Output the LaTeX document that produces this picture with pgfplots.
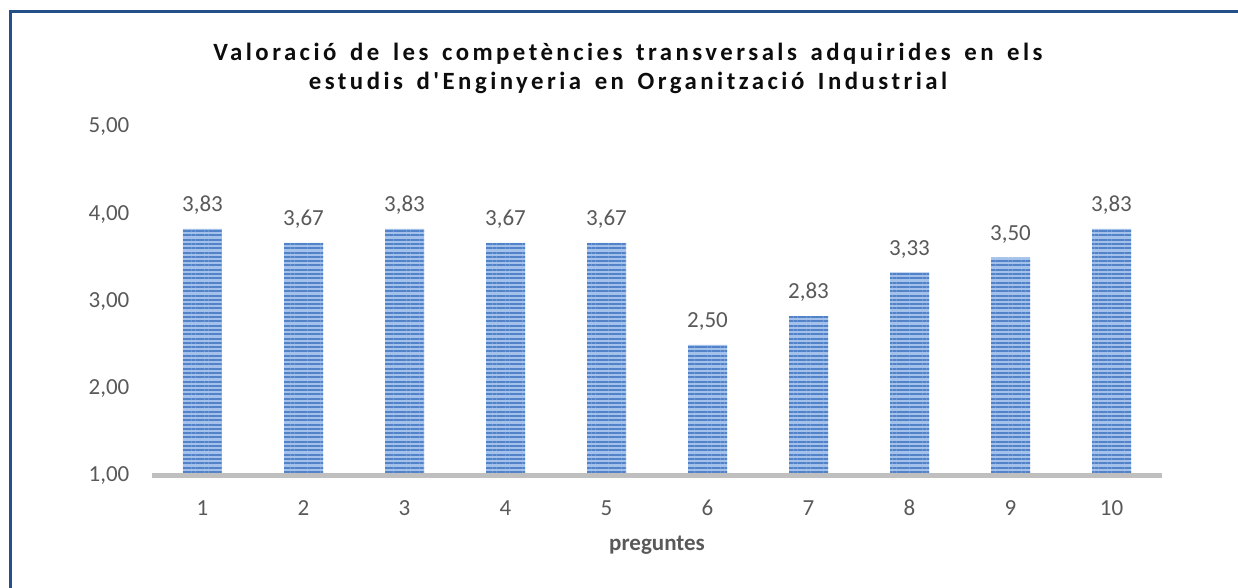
\documentclass[border=0pt]{standalone}
\usepackage{fontspec}
\setmainfont{Carlito}
\newfontfamily\titlefont[LetterSpace=14,WordSpace=1.5]{Carlito}
\usepackage{pgfplots}
\pgfplotsset{compat=1.18}
\usetikzlibrary{patterns.meta}
\definecolor{barlight}{HTML}{A3C1EA}
\definecolor{bardark}{HTML}{5283C9}
\definecolor{axgray}{HTML}{BFBFBF}
\definecolor{txtgray}{HTML}{595959}
\definecolor{framecol}{HTML}{24508A}
\begin{document}
\begin{tikzpicture}[x=1pt,y=1pt]
\path[use as bounding box] (0,0) rectangle (619,294);
\draw[framecol, line width=1.5pt] (5,0) -- (5,288) -- (619,288);
\node[anchor=base, font=\titlefont\bfseries\fontsize{12.4}{14}\selectfont, text=black!95] at (314,263.5) {Valoració de les competències transversals adquirides en els};
\node[anchor=base, font=\titlefont\bfseries\fontsize{12.4}{14}\selectfont, text=black!95] at (314,249) {estudis d'Enginyeria en Organització Industrial};
\begin{axis}[
  at={(76pt,56.25pt)}, anchor=south west,
  scale only axis, width=505pt, height=174.25pt,
  xmin=0.5, xmax=10.5, ymin=1, ymax=5,
  xtick={1,...,10}, ytick={1,2,3,4,5},
  axis x line*=bottom, axis y line*=left,
  y axis line style={draw=none},
  x axis line style={axgray, line width=2.5pt, -},
  tick style={draw=none}, major tick length=0pt,
  axis on top,
  /pgf/number format/assume math mode=true,
  yticklabel style={/pgf/number format/fixed, /pgf/number format/fixed zerofill, /pgf/number format/precision=2, /pgf/number format/use comma, font=\fontsize{11.5}{13}\selectfont, text=txtgray, xshift=-7.8pt},
  xticklabel style={font=\fontsize{11.5}{13}\selectfont, text=txtgray, anchor=base, yshift=-20.25pt},
  xlabel={preguntes},
  xlabel style={font=\bfseries\fontsize{11.5}{13}\selectfont, text=txtgray, at={(axis description cs:0.5,0)}, anchor=base, yshift=-37.75pt},
  ybar, bar width=19.5pt,
  nodes near coords,
  nodes near coords style={font=\fontsize{11.5}{13}\selectfont, text=txtgray, anchor=base, yshift=8.7pt, /pgf/number format/fixed, /pgf/number format/fixed zerofill, /pgf/number format/precision=2, /pgf/number format/use comma, /pgf/number format/assume math mode=true},
]
\addplot[draw=none, fill=barlight, postaction={pattern={Lines[angle=0,distance=2.15pt,line width=1pt]}, pattern color=bardark}]
coordinates {(1,3.83)(2,3.67)(3,3.83)(4,3.67)(5,3.67)(6,2.50)(7,2.83)(8,3.33)(9,3.50)(10,3.83)};
\end{axis}
\end{tikzpicture}
\end{document}
